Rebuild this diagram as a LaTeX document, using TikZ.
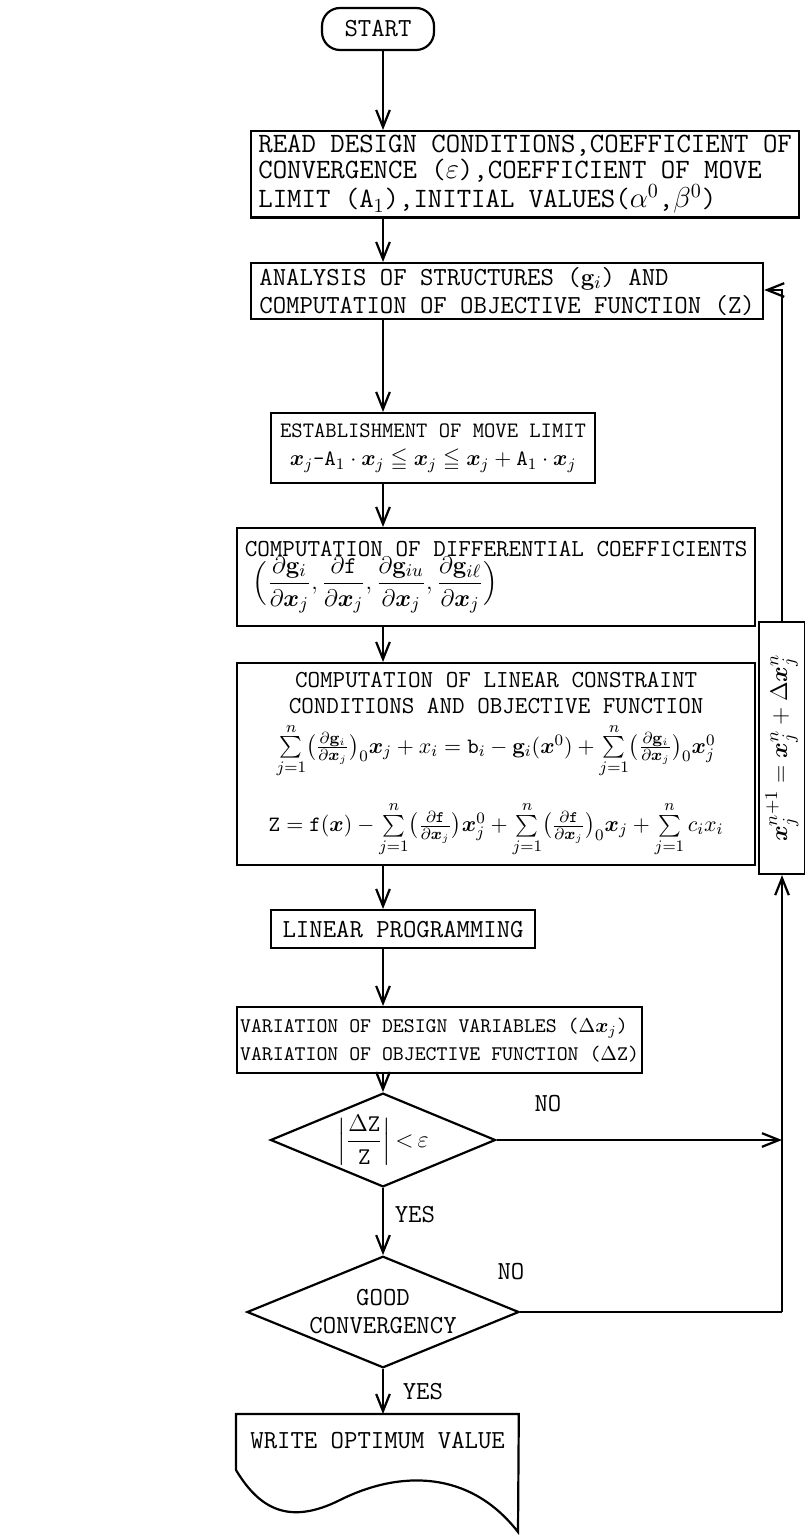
\documentclass[tikz,border=0pt]{standalone}
\usepackage{amsmath,amssymb,bm}
\usepackage{tikz}
\usetikzlibrary{arrows.meta,calc,positioning,shapes.geometric}

\begin{document}
\begin{tikzpicture}[
          x=0.5pt, y=-0.5pt,
          font=\ttfamily\fontsize{13}{14}\selectfont,
          box/.style={draw, line width=1.1pt, inner xsep=1.5pt, inner ysep=2pt, align=left, anchor=north west},
          arr/.style={-{Straight Barb[length=3mm,width=2.4mm]}, line width=1.1pt},
          lnk/.style={line width=1.1pt},
          decide/.style={draw, diamond, line width=1.1pt, aspect=2.4, inner sep=1pt, align=center},
          lbl/.style={font=\ttfamily\fontsize{13}{15}\selectfont}
      ]
        \useasboundingbox (0,0) rectangle (804,1535);
        \coordinate (axis) at (383,0);
        \node[draw, line width=1.1pt, rounded corners=9pt, minimum width=56pt, minimum height=21pt] (start) at (378,29) {START};
        \node[box, font=\ttfamily\fontsize{14}{13}\selectfont, minimum width=274pt, minimum height=38pt] (read) at (250,130)
          {READ DESIGN CONDITIONS,COEFFICIENT OF\\CONVERGENCE ($\varepsilon$),COEFFICIENT OF MOVE\\LIMIT (A$_1$),INITIAL VALUES($\alpha^0$,$\beta^0$)};
        \node[box, font=\ttfamily\fontsize{13}{14}\selectfont, minimum width=256pt, minimum height=28pt] (anal) at (250,262)
          {ANALYSIS OF STRUCTURES ($\mathbf{g}_i$) AND\\COMPUTATION OF OBJECTIVE FUNCTION (Z)};
        \node[box, font=\ttfamily\fontsize{11}{14}\selectfont, align=center, minimum width=162pt, minimum height=35pt] (move) at (270,412)
          {ESTABLISHMENT OF MOVE LIMIT\\$\bm{x}_j\text{-}\mathtt{A}_1\cdot\bm{x}_j \leqq \bm{x}_j\leqq \bm{x}_j+\mathtt{A}_1\cdot\bm{x}_j$};
        \node[box, font=\ttfamily\fontsize{12.2}{14}\selectfont, minimum width=259pt, minimum height=49pt] (diff) at (236,527)
          {COMPUTATION OF DIFFERENTIAL COEFFICIENTS\\[-1pt]
           \hspace*{4pt}$\Bigl(\dfrac{\partial\mathbf{g}_i}{\partial\bm{x}_j},\dfrac{\partial\mathtt{f}}{\partial\bm{x}_j},\dfrac{\partial\mathbf{g}_{iu}}{\partial\bm{x}_j},\dfrac{\partial\mathbf{g}_{i\ell}}{\partial\bm{x}_j}\Bigr)$};
        \node[box, font=\ttfamily\fontsize{12.2}{13}\selectfont, align=center, inner ysep=0pt, minimum width=259pt, minimum height=101pt] (lin) at (236,662)
          {COMPUTATION OF LINEAR CONSTRAINT\\CONDITIONS AND OBJECTIVE FUNCTION\\[4pt]
           {\fontsize{10.8}{12}\selectfont$\sum\limits_{j=1}^{n}\bigl(\frac{\partial\mathbf{g}_i}{\partial\bm{x}_j}\bigr)_{0}\bm{x}_j+x_i=\mathtt{b}_i-\mathbf{g}_i(\bm{x}^0)+\sum\limits_{j=1}^{n}\bigl(\frac{\partial\mathbf{g}_i}{\partial\bm{x}_j}\bigr)_{0}\bm{x}_j^0$}\\[11pt]
           {\fontsize{10.8}{12}\selectfont$\mathtt{Z}=\mathtt{f}(\bm{x})-\sum\limits_{j=1}^{n}\bigl(\frac{\partial\mathtt{f}}{\partial\bm{x}_j}\bigr)\bm{x}_j^0+\sum\limits_{j=1}^{n}\bigl(\frac{\partial\mathtt{f}}{\partial\bm{x}_j}\bigr)_{0}\bm{x}_j+\sum\limits_{j=1}^{n}c_i x_i$}};
        \node[box, font=\ttfamily\fontsize{13}{14}\selectfont, inner xsep=4pt, minimum width=132pt, minimum height=19pt, align=center] (lp) at (270,909) {LINEAR PROGRAMMING};
        \node[box, font=\ttfamily\fontsize{10.4}{14}\selectfont, minimum width=198pt, minimum height=33pt] (vari) at (236,1006)
          {VARIATION OF DESIGN VARIABLES ($\Delta\bm{x}_j$)\\VARIATION OF OBJECTIVE FUNCTION ($\Delta$Z)};
        \node[decide, minimum width=102pt, minimum height=42pt] (conv) at (383,1140)
          {$\Bigl|\dfrac{\Delta\mathtt{Z}}{\mathtt{Z}}\Bigr|\,{<}\,\varepsilon$};
        \node[decide, minimum width=136pt, minimum height=55pt] (good) at (383,1312)
          {GOOD\\CONVERGENCY};
        \node[draw, line width=1.1pt, rotate=90, minimum width=126pt, minimum height=20.5pt, font=\fontsize{13}{15}\selectfont] (upd) at (782,748)
          {$\bm{x}_j^{n+1}=\bm{x}_j^{n}+\Delta\bm{x}_j^{n}$};
        \coordinate (nojoin) at (782,1140);
        \coordinate (goodjoin) at (782,1312);
        \coordinate (backtop) at (782,290);
        % output document
        \node[anchor=north west, inner sep=0pt, minimum width=141pt, minimum height=26pt] (write) at (236,1414) {};
        \node[anchor=north west, inner xsep=7pt, inner ysep=9pt, font=\ttfamily\fontsize{13}{14}\selectfont] (wtext) at (236,1414) {WRITE OPTIMUM VALUE};
        \draw[lnk] (236,1470) -- (write.north west) -- (write.north east) -- (518,1532)
          .. controls (470,1470) and (400,1470) .. (340,1500) .. controls (290,1525) and (260,1510) .. (236,1470);
        % connectors
        \draw[arr] (start.south -| axis) -- (read.north -| axis);
        \draw[arr] (read.south -| axis) -- (anal.north -| axis);
        \draw[arr] (anal.south -| axis) -- (move.north -| axis);
        \draw[arr] (move.south -| axis) -- (diff.north -| axis);
        \draw[arr] (diff.south -| axis) -- (lin.north -| axis);
        \draw[arr] (lin.south -| axis) -- (lp.north -| axis);
        \draw[arr] (lp.south -| axis) -- (vari.north -| axis);
        \draw[arr] (vari.south -| axis) -- (conv.north);
        \draw[arr] (conv.south) -- (good.north) node[pos=0.4, right=2pt, lbl] {YES};
        \draw[arr] (good.south) -- (write.north -| good) node[pos=0.5, right=6pt, lbl] {YES};
        \draw[arr] (conv.east) -- (nojoin) node[pos=0.18, above=10pt, lbl] {NO};
        \draw[lnk] (good.east) -- (goodjoin) node[pos=0.0, above left=12pt and -6pt, lbl] {NO};
        \draw[arr] (goodjoin) -- (upd.west);
        \draw[arr] (upd.east) -- (backtop) -- (anal.east |- backtop);
      \end{tikzpicture}
\end{document}
